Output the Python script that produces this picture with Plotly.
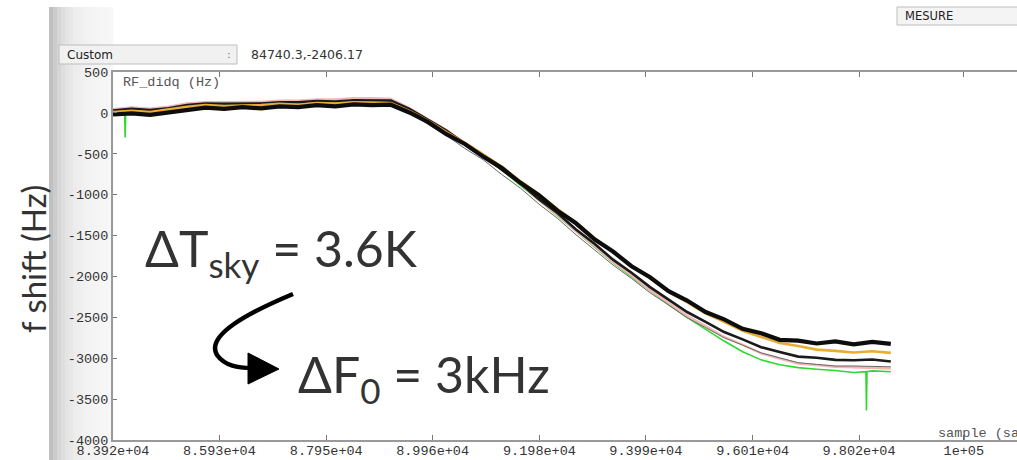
import plotly.graph_objects as go

W, H = 1017, 460

# ---------------- data ----------------
samples = [83920, 84270, 84620, 84970, 85320, 85670, 86020, 86370, 86720, 87070,
           87420, 87770, 88120, 88470, 88820, 89170, 89520, 89870, 90220, 90570,
           90920, 91270, 91620, 91970, 92320, 92670, 93020, 93370, 93720, 94070,
           94420, 94770, 95120, 95470, 95820, 96170, 96520, 96870, 97220, 97570,
           97920, 98270, 98620]

black_main = [-20, -5, -25, 5, 45, 65, 50, 70, 55, 80, 70, 95, 80, 105, 95, 100, 5,
              -110, -260, -380, -535, -675, -855, -1005, -1195, -1350, -1545, -1695,
              -1875, -2010, -2180, -2295, -2435, -2525, -2640, -2695, -2775, -2785,
              -2820, -2795, -2830, -2800, -2825]

gold = [10, 25, 10, 40, 75, 95, 85, 90, 95, 110, 100, 120, 115, 130, 125, 120, 25,
        -95, -235, -365, -510, -660, -835, -995, -1175, -1340, -1530, -1695, -1870,
        -2020, -2185, -2315, -2450, -2555, -2665, -2740, -2815, -2850, -2895, -2910,
        -2930, -2915, -2935]

black_second = [30, 50, 35, 55, 95, 115, 110, 115, 115, 130, 130, 145, 140, 155, 155,
                150, 50, -85, -215, -375, -515, -695, -860, -1055, -1225, -1425, -1600,
                -1795, -1955, -2130, -2280, -2435, -2555, -2680, -2770, -2865, -2925,
                -2980, -2995, -3020, -3025, -3015, -3040]

pink = [45, 65, 50, 75, 115, 130, 130, 135, 135, 150, 150, 165, 165, 180, 180, 170, 60,
        -75, -210, -370, -510, -695, -865, -1065, -1245, -1445, -1625, -1820, -1985,
        -2165, -2320, -2480, -2605, -2740, -2835, -2940, -3005, -3065, -3085, -3105,
        -3110, -3115, -3125]

gray_thin = [-10, 5, -10, 15, 55, 70, 65, 70, 70, 85, 85, 100, 95, 110, 105, 100, 0,
             -140, -275, -435, -575, -755, -920, -1115, -1290, -1490, -1670, -1860,
             -2025, -2200, -2350, -2505, -2625, -2750, -2840, -2935, -2995, -3055,
             -3075, -3095, -3095, -3100, -3105]

green_samples = [83920, 84140, 84150, 84160, 84270, 84620, 84970, 85320, 85670, 86020,
                 86370, 86720, 87070, 87420, 87770, 88120, 88470, 88820, 89170, 89520,
                 89870, 90220, 90570, 90920, 91270, 91620, 91970, 92320, 92670, 93020,
                 93370, 93720, 94070, 94420, 94770, 95120, 95470, 95820, 96170, 96520,
                 96870, 97220, 97570, 97920, 98150, 98160, 98170, 98270, 98620]
green = [0, 5, -300, 5, 20, 15, 30, 80, 85, 90, 85, 95, 100, 110, 115, 120, 125, 135,
         125, 30, -95, -240, -385, -530, -700, -880, -1070, -1260, -1450, -1640, -1830,
         -2005, -2180, -2345, -2500, -2650, -2790, -2920, -3020, -3080, -3115, -3135,
         -3150, -3175, -3165, -3640, -3165, -3155, -3165]

x_tickvals = [83920, 85930, 87950, 89960, 91980, 93990, 96010, 98020, 100000]
x_ticktext = ["8.392e+04", "8.593e+04", "8.795e+04", "8.996e+04", "9.198e+04",
              "9.399e+04", "9.601e+04", "9.802e+04", "1e+05"]
y_tickvals = [500, 0, -500, -1000, -1500, -2000, -2500, -3000, -3500, -4000]
y_ticktext = ["500", "0", "-500", "-1000", "-1500", "-2000", "-2500", "-3000", "-3500", "-4000"]

# ---------------- helpers (layout positions in pixels -> paper) ----------------
def px(x):
    return x / W

def py(y):
    return 1 - y / H

fig = go.Figure()

series = [
    (green_samples, green, "#2fd82f", 1.6),
    (samples, pink, "#f2b6b6", 2.4),
    (samples, gray_thin, "#6a6a6a", 1.0),
    (samples, black_second, "#1a1a1a", 2.6),
    (samples, gold, "#e9ad33", 2.6),
    (samples, black_main, "#0d0d0d", 4.2),
]
for xs, ys, col, w in series:
    fig.add_trace(go.Scatter(x=xs, y=ys, mode="lines",
                             line=dict(color=col, width=w), showlegend=False,
                             hoverinfo="skip"))

mono = "Liberation Mono, Courier New, monospace"

fig.update_layout(
    width=W, height=H,
    margin=dict(l=0, r=0, t=0, b=0),
    paper_bgcolor="white", plot_bgcolor="white",
    xaxis=dict(domain=[px(113), 1], range=[83920, 101005],
               tickvals=x_tickvals, ticktext=x_ticktext,
               ticks="inside", ticklen=5, tickwidth=1, tickcolor="#777",
               showline=True, linecolor="#9a9a9a", linewidth=2, mirror="ticks",
               showgrid=False, zeroline=False, automargin=False,
               ticklabelstandoff=-3,
               tickfont=dict(family=mono, size=13.5, color="#333")),
    yaxis=dict(domain=[py(440), py(72)], range=[-4000, 500],
               tickvals=y_tickvals, ticktext=y_ticktext,
               ticks="inside", ticklen=4, tickwidth=1, tickcolor="#777",
               showline=True, linecolor="#9a9a9a", linewidth=2, mirror=False,
               showgrid=False, zeroline=False, automargin=False,
               tickfont=dict(family=mono, size=13.5, color="#333")),
)

shapes = []
# grey gradient strip on the left
greys = [192, 204, 214, 222, 228, 232, 236, 238, 240, 242, 243, 244, 245, 246, 246, 247]
for i, g in enumerate(greys):
    x0 = 49 + 4 * i
    shapes.append(dict(type="rect", xref="paper", yref="paper",
                       x0=px(x0), x1=px(x0 + 4.3), y0=py(460), y1=py(7),
                       fillcolor=f"rgb({g},{g},{g})", line=dict(width=0), layer="below"))
# "Custom" drop-down box
shapes.append(dict(type="rect", xref="paper", yref="paper",
                   x0=px(59), x1=px(237), y0=py(64), y1=py(45),
                   fillcolor="#f1f1f1", line=dict(color="#bdbdbd", width=1)))
# "MESURE" box
shapes.append(dict(type="rect", xref="paper", yref="paper",
                   x0=px(897), x1=px(1030), y0=py(25), y1=py(7),
                   fillcolor="#f4f4f4", line=dict(color="#bdbdbd", width=1)))
# curved arrow
p = [(293, 294), (250, 312), (205, 335), (217, 355), (225, 366), (238, 368), (252, 368)]
path = "M {} {} C {} {}, {} {}, {} {} C {} {}, {} {}, {} {}".format(
    px(p[0][0]), py(p[0][1]), px(p[1][0]), py(p[1][1]), px(p[2][0]), py(p[2][1]),
    px(p[3][0]), py(p[3][1]), px(p[4][0]), py(p[4][1]), px(p[5][0]), py(p[5][1]),
    px(p[6][0]), py(p[6][1]))
shapes.append(dict(type="path", xref="paper", yref="paper", path=path,
                   line=dict(color="black", width=4.5)))
tri = "M {} {} L {} {} L {} {} Z".format(px(248), py(353), px(248), py(384), px(279), py(369))
shapes.append(dict(type="path", xref="paper", yref="paper", path=tri,
                   fillcolor="black", line=dict(color="black", width=1)))
fig.update_layout(shapes=shapes)

big = "Lato, Open Sans, sans-serif"
ann = [
    dict(text="Custom", x=px(65), y=py(54.5), xanchor="left", yanchor="middle",
         font=dict(family="DejaVu Sans", size=12, color="#222")),
    dict(text=":", x=px(229), y=py(54.5), xanchor="center", yanchor="middle",
         font=dict(family="DejaVu Sans", size=11, color="#777")),
    dict(text="84740.3,-2406.17", x=px(249), y=py(54.5), xanchor="left", yanchor="middle",
         font=dict(family="DejaVu Sans", size=12.5, color="#333")),
    dict(text="MESURE", x=px(903), y=py(16), xanchor="left", yanchor="middle",
         font=dict(family="DejaVu Sans", size=11.5, color="#222")),
    dict(text="RF_didq (Hz)", x=px(121), y=py(83), xanchor="left", yanchor="middle",
         font=dict(family=mono, size=13.5, color="#555")),
    dict(text="sample (sa", x=px(936), y=py(433), xanchor="left", yanchor="middle",
         font=dict(family=mono, size=13.5, color="#555")),
    dict(text="f shift (Hz)", x=px(33), y=py(259), xanchor="center", yanchor="middle",
         textangle=-90, font=dict(family=big, size=33, color="#333")),
    dict(text="ΔT<sub>sky</sub> = 3.6K", x=px(143), y=py(252), xanchor="left",
         yanchor="middle", font=dict(family=big, size=50, color="#333")),
    dict(text="ΔF<sub>0</sub> = 3kHz", x=px(296), y=py(377), xanchor="left",
         yanchor="middle", font=dict(family=big, size=50, color="#333")),
]
for a in ann:
    a.update(xref="paper", yref="paper", showarrow=False)
fig.update_layout(annotations=ann)

fig.write_html("out.html")
